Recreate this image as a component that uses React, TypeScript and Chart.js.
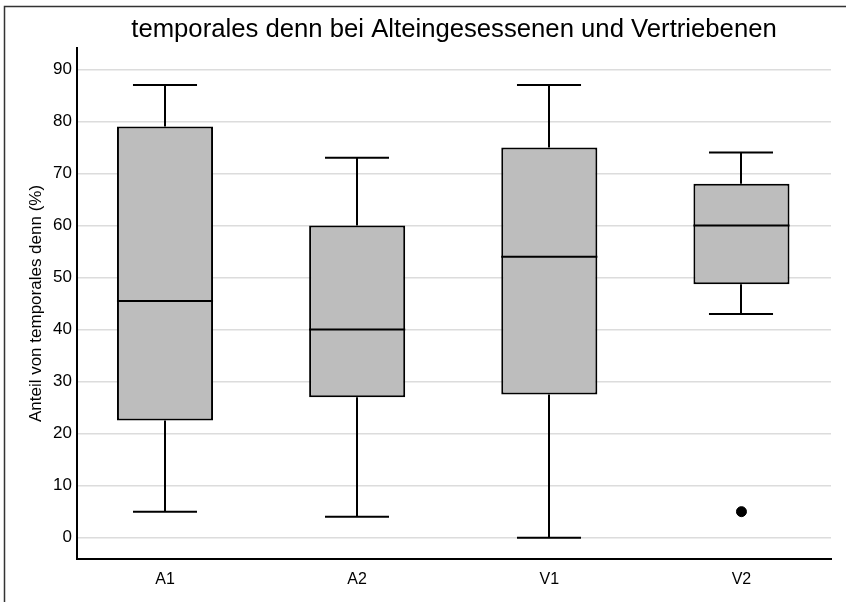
import React, { useEffect, useRef } from "react";
import { Chart, registerables } from "chart.js";

Chart.register(...registerables);

// Groups and their five-number summaries (percent)
const groups = ["A1", "A2", "V1", "V2"];
const whiskerLow = [5, 4, 0, 43];
const quartile1 = [22.5, 27, 27.5, 48.7];
const medians = [45.5, 40, 54, 60];
const quartile3 = [79, 60, 75, 68];
const whiskerHigh = [87, 73, 87, 74];
// Outliers as [group index, value]
const outliers: [number, number][] = [[3, 5]];
const yTicks = [0, 10, 20, 30, 40, 50, 60, 70, 80, 90];

const TITLE = "temporales denn bei Alteingesessenen und Vertriebenen";
const Y_TITLE = "Anteil von temporales denn (%)";
const FONT = "'Liberation Sans', Arial, Helvetica, sans-serif";

const boxPlotPlugin = {
  id: "boxWhiskers",
  beforeDraw(chart: any) {
    const { ctx, chartArea } = chart;
    ctx.save();
    // page frame
    ctx.strokeStyle = "#333";
    ctx.lineWidth = 1.5;
    ctx.beginPath();
    ctx.moveTo(4.5, chart.height);
    ctx.lineTo(4.5, 6.5);
    ctx.lineTo(chart.width, 6.5);
    ctx.stroke();
    // title
    ctx.fillStyle = "#000";
    ctx.font = `25.7px ${FONT}`;
    ctx.textAlign = "center";
    ctx.textBaseline = "alphabetic";
    ctx.fillText(TITLE, (chartArea.left + chartArea.right) / 2, 37);
    ctx.restore();
  },
  beforeDatasetsDraw(chart: any) {
    const { ctx, scales } = chart;
    const x = scales.x;
    const y = scales.y;
    const step = x.getPixelForValue(2) - x.getPixelForValue(1);
    const capHalf = step / 6;
    ctx.save();
    ctx.strokeStyle = "#000";
    ctx.lineWidth = 2;
    groups.forEach((_, i) => {
      const cx = Math.round(x.getPixelForValue(i + 1));
      const lo = y.getPixelForValue(whiskerLow[i]);
      const q1 = y.getPixelForValue(quartile1[i]);
      const q3 = y.getPixelForValue(quartile3[i]);
      const hi = y.getPixelForValue(whiskerHigh[i]);
      ctx.beginPath();
      ctx.moveTo(cx, q3);
      ctx.lineTo(cx, hi);
      ctx.moveTo(cx - capHalf, hi);
      ctx.lineTo(cx + capHalf, hi);
      ctx.moveTo(cx, q1);
      ctx.lineTo(cx, lo);
      ctx.moveTo(cx - capHalf, lo);
      ctx.lineTo(cx + capHalf, lo);
      ctx.stroke();
    });
    ctx.restore();
  },
  afterDatasetsDraw(chart: any) {
    const { ctx, scales } = chart;
    const x = scales.x;
    const y = scales.y;
    const step = x.getPixelForValue(2) - x.getPixelForValue(1);
    const half = step / 4;
    ctx.save();
    ctx.strokeStyle = "#000";
    ctx.lineWidth = 2;
    groups.forEach((_, i) => {
      const cx = x.getPixelForValue(i + 1);
      const m = y.getPixelForValue(medians[i]);
      ctx.beginPath();
      ctx.moveTo(cx - half, m);
      ctx.lineTo(cx + half, m);
      ctx.stroke();
    });
    ctx.restore();
  },
};

export default function App() {
  const canvasRef = useRef<HTMLCanvasElement | null>(null);

  useEffect(() => {
    const canvas = canvasRef.current;
    if (!canvas) return;
    const chart = new Chart(canvas, {
      type: "bar",
      data: {
        datasets: [
          {
            type: "bar",
            label: "IQR",
            data: groups.map((_, i) => ({ x: i + 1, y: [quartile1[i], quartile3[i]] })) as any,
            backgroundColor: "#bdbdbd",
            borderColor: "#000",
            borderWidth: 2,
            borderSkipped: false,
            barPercentage: 0.5,
            categoryPercentage: 1,
            order: 2,
          } as any,
          {
            type: "scatter",
            label: "Ausreißer",
            data: outliers.map(([g, v]) => ({ x: g + 1, y: v })),
            backgroundColor: "#000",
            borderColor: "#000",
            pointRadius: 5,
            pointHoverRadius: 5,
            order: 1,
          } as any,
        ],
      },
      options: {
        responsive: false,
        animation: false,
        events: [],
        layout: { padding: { left: 0, right: 15, top: 48, bottom: 0 } },
        plugins: {
          legend: { display: false },
          title: { display: false },
          tooltip: { enabled: false },
        },
        scales: {
          x: {
            type: "linear",
            offset: false,
            min: 0.542,
            max: 4.466,
            afterBuildTicks: (s: any) => {
              s.ticks = groups.map((_, i) => ({ value: i + 1 }));
            },
            afterFit: (s: any) => {
              s.height = 43;
            },
            grid: { display: false, drawTicks: false, offset: false },
            border: { display: true, color: "#000", width: 2 },
            ticks: {
              color: "#000",
              padding: 11,
              font: { family: FONT, size: 16 },
              callback: (v: any) => groups[Math.round(v) - 1] ?? "",
            },
          },
          y: {
            type: "linear",
            min: -4.1,
            max: 94.1,
            afterBuildTicks: (s: any) => {
              s.ticks = yTicks.map((v) => ({ value: v }));
            },
            afterFit: (s: any) => {
              s.width = 77;
            },
            grid: { color: "#dcdcdc", lineWidth: 1.5, drawTicks: false },
            border: { display: true, color: "#000", width: 2 },
            ticks: {
              color: "#000",
              padding: 5,
              font: { family: FONT, size: 17 },
            },
            title: {
              display: true,
              text: Y_TITLE,
              color: "#000",
              font: { family: FONT, size: 17 },
              padding: { top: 26, bottom: 0 },
            },
          },
        },
      },
      plugins: [boxPlotPlugin],
    });
    return () => chart.destroy();
  }, []);

  return (
    <div style={{ position: "fixed", left: 0, top: 0, width: 846, height: 602, background: "#fff" }}>
      <canvas ref={canvasRef} width={846} height={602} style={{ display: "block" }} />
    </div>
  );
}
